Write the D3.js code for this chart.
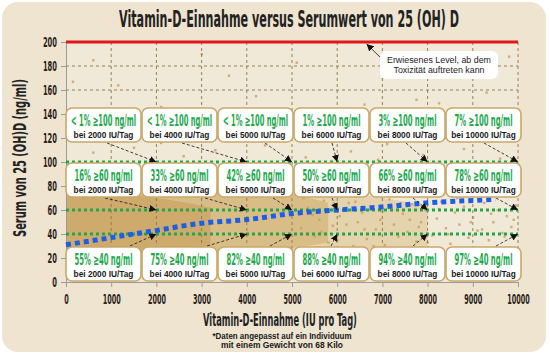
<!DOCTYPE html>
<html><head><meta charset="utf-8">
<script src="https://cdn.jsdelivr.net/npm/d3@7"></script>
<style>body{margin:0;background:#fff}svg{display:block}</style>
</head><body><svg id="c" width="550" height="356"></svg>
<script>
// ---- data ----
const titleText = "Vitamin-D-Einnahme versus Serumwert von 25 (OH) D";
const xLabel = "Vitamin-D-Einnahme (IU pro Tag)";
const yLabel = "Serum von 25 (OH)D (ng/ml)";
const footnote = ["*Daten angepasst auf ein Individuum", "mit einem Gewicht von 68 Kilo"];
const xTicks = [0,1000,2000,3000,4000,5000,6000,7000,8000,9000,10000];
const yTicks = [0,20,40,60,80,100,120,140,160,180,200];
const toxicLevel = 200;
const toxicNote = ["Erwiesenes Level, ab dem", "Toxizität auftreten kann"];
const toxicPointer = 6650;
const thresholds = [100, 60, 40];
const doses = [2000, 4000, 5000, 6000, 8000, 10000];
const pct100 = ["< 1%", "< 1%", "< 1%", "1%", "3%", "7%"];
const pct60 = ["16%", "33%", "42%", "50%", "66%", "78%"];
const pct40 = ["55%", "75%", "82%", "88%", "94%", "97%"];
const trendX = [0,1000,2000,3000,4000,5000,6000,7000,8000,9000,9500];
const trendY = [31,37,43,49,52,57,60,62.5,66,68,69];
// observed cloud envelopes (IU, ng/ml)
const cloudOuterX = [0,1000,2000,3000,4000,5000,6000,7000,8000];
const cloudOuterLo = [14,15,16,18,20,22,25,28,30];
const cloudOuterHi = [88,88,88,86,84,80,76,70,64];
const cloudCoreX = [0,1000,2000,3000,4000,5000,5800];
const cloudCoreLo = [18,18,20,22,25,28,33];
const cloudCoreHi = [82,82,82,80,78,74,66];
const cloudDenseX = [0,800,1600,2400,3200];
const cloudDenseLo = [22,23,25,27,30];
const cloudDenseHi = [76,75,72,68,62];
const scatterX = [5200,5350,5500,5600,5700,5800,5900,6050,6150,6250,6350,6450,6550,6650,6750,6850,6950,7050,7150,7250,7350,7450,7550,7650,7750,7850,7950,8100,8200,8300,8400,8500,8600,8700,8800,8900,9000,9100,9250,9350,9450,9550,9650,9750,9850,9950,
  5250,5450,5650,5850,6000,6200,6400,6600,6800,7000,7200,7400,7600,7800,8000,8250,8450,8650,8950,9200,9400,9700,9900,
  600,1500,2600,3300,4400,5300,6300,7100,7900,8800,9600,2100,4800,6900,
  150,1150,2100,3600,4200,5100,6600,7750,8250,9800,9300,600,3000];
const scatterY = [45,62,38,52,68,33,47,55,40,66,30,50,58,36,63,44,52,31,69,48,38,57,42,65,34,50,60,39,53,67,45,32,58,48,63,37,54,43,66,35,50,60,41,55,46,64,
  70,56,42,60,35,48,67,44,30,59,41,66,52,46,33,61,40,70,50,44,57,38,52,
  108,112,105,110,114,104,109,115,106,111,103,116,101,102,
  167,164,146,172,155,183,148,152,149,188,158,185,190];

// ---- layout ----
const svg = d3.select("#c");
const L = 66, R = 518, T = 42, B = 282;
const x = d3.scaleLinear().domain([0,10000]).range([L,R]);
const y = d3.scaleLinear().domain([0,200]).range([B,T]);
const cond = "'Liberation Sans Narrow','DejaVu Sans Condensed',sans-serif";
const sans = "'Liberation Sans',Arial,sans-serif";
function fit(sel, w){ return sel.attr("textLength", w).attr("lengthAdjust","spacingAndGlyphs"); }
// condensed text: font shrunk to the wanted width, stretched back to the wanted height
function condText(parent, tx, ty, str, w, size, fill){
  const t = parent.append("text").attr("text-anchor","middle").attr("font-family",cond)
    .attr("font-weight","bold").attr("font-size",size).attr("fill",fill).text(str);
  const nat = t.node().getComputedTextLength();
  const fs = size * w / nat;
  t.attr("font-size", fs).attr("transform", `translate(${tx},${ty}) scale(1,${size/fs})`);
  return t;
}

const defs = svg.append("defs");
defs.append("marker").attr("id","ah").attr("viewBox","0 0 10 10").attr("refX",10).attr("refY",5)
  .attr("markerWidth",7).attr("markerHeight",7).attr("markerUnits","userSpaceOnUse").attr("orient","auto")
  .append("path").attr("d","M0,0L10,5L0,10z").attr("fill","#111");
defs.append("clipPath").attr("id","pc").append("rect").attr("x",L).attr("y",T).attr("width",R-L).attr("height",B-T);

// panel
svg.append("rect").attr("x",2).attr("y",2).attr("width",544).attr("height",350).attr("rx",16)
  .attr("fill","#eee4d0");
svg.append("rect").attr("x",L).attr("y",T).attr("width",R-L).attr("height",B-T).attr("fill","#f1e9d8");

// cloud
const gc = svg.append("g").attr("clip-path","url(#pc)");
function band(xs, lo, hi, col, op){
  const a = d3.area().x(d=>x(d[0])).y0(d=>y(d[1])).y1(d=>y(d[2])).curve(d3.curveBasis);
  gc.append("path").datum(xs.map((v,i)=>[v,lo[i],hi[i]])).attr("d",a).attr("fill",col).attr("opacity",op);
}
band(cloudOuterX, cloudOuterLo, cloudOuterHi, "#d9bd84", 0.5);
band(cloudCoreX, cloudCoreLo, cloudCoreHi, "#cfab68", 0.55);
band(cloudDenseX, cloudDenseLo, cloudDenseHi, "#c59d55", 0.55);
gc.selectAll("rect.sc").data(scatterX.map((v,i)=>[v,scatterY[i]])).join("rect").attr("class","sc")
  .attr("x",d=>x(d[0])-1).attr("y",d=>y(d[1])-1).attr("width",2.4).attr("height",2.4)
  .attr("fill","#c7a260").attr("opacity",0.85);

// grid
const gg = svg.append("g").attr("stroke","#8e7448").attr("stroke-width",0.9).attr("stroke-dasharray","3,3");
gg.selectAll("line.v").data(xTicks.filter(t=>t>0)).join("line").attr("x1",d=>x(d)).attr("x2",d=>x(d)).attr("y1",T).attr("y2",B);
gg.selectAll("line.h").data(yTicks.filter(t=>t>0 && t<200)).join("line").attr("x1",L).attr("x2",R).attr("y1",d=>y(d)).attr("y2",d=>y(d));

// axes
const ax = svg.append("g").attr("transform",`translate(0,${B})`)
  .call(d3.axisBottom(x).tickValues(xTicks).tickFormat(d3.format("d")).tickSize(5).tickSizeOuter(0));
const ay = svg.append("g").attr("transform",`translate(${L},0)`)
  .call(d3.axisLeft(y).tickValues(yTicks).tickFormat(d3.format("d")).tickSize(5).tickSizeOuter(0));
[ax,ay].forEach(g=>{ g.select(".domain").attr("stroke","#9a9a9a"); g.selectAll(".tick line").attr("stroke","#9a9a9a");
  g.selectAll(".tick text").attr("font-family",cond).attr("font-weight","bold").attr("font-size",14).attr("fill","#2a2218"); });
ax.selectAll(".tick text").attr("dy",null).attr("y",22).each(function(d){ fit(d3.select(this), String(d).length*4.5); });
ay.selectAll(".tick text").attr("x",-9).each(function(d){ fit(d3.select(this), String(d).length*4.7); });

// toxic line
svg.append("line").attr("x1",x(0)).attr("x2",x(10000)).attr("y1",y(toxicLevel)).attr("y2",y(toxicLevel))
  .attr("stroke","#e0161b").attr("stroke-width",3.2);

// threshold lines
svg.selectAll("line.th").data(thresholds).join("line").attr("class","th")
  .attr("x1",x(0)).attr("x2",x(10000)).attr("y1",d=>y(d)).attr("y2",d=>y(d))
  .attr("stroke","#1fa74a").attr("stroke-width",3).attr("stroke-dasharray","3,3");

// trend line
svg.append("path").datum(trendX.map((v,i)=>[v,trendY[i]]))
  .attr("d", d3.line().x(d=>x(d[0])).y(d=>y(d[1])).curve(d3.curveMonotoneX))
  .attr("fill","none").attr("stroke","#1c5fe6").attr("stroke-width",5).attr("stroke-dasharray","5,4");

// boxes
const rowTop = [108, 163, 247];
const boxW = 75, boxH = 34;
const boxLeft = i => 66 + i*76;
const srcOff = [[41,40,47,38,36,38],[39,63,55,38,43,50],[64,65,52,37,43,50]];
const pcts = [pct100, pct60, pct40];
const ga = svg.append("g");
thresholds.forEach((th, r)=>{
  doses.forEach((ds, i)=>{
    const bx = boxLeft(i), by = rowTop[r];
    const sx = bx + srcOff[r][i], sy = r===2 ? by-1 : by+boxH+1;
    ga.append("line").attr("x1",sx).attr("y1",sy).attr("x2",x(ds)).attr("y2",y(th))
      .attr("stroke","#111").attr("stroke-width",0.8).attr("stroke-dasharray","3,2").attr("marker-end","url(#ah)");
  });
});
const gb = svg.append("g");
thresholds.forEach((th, r)=>{
  doses.forEach((ds, i)=>{
    const bx = boxLeft(i), by = rowTop[r];
    gb.append("rect").attr("x",bx).attr("y",by).attr("width",boxW).attr("height",boxH).attr("rx",6)
      .attr("fill","#fff").attr("stroke","#c9a86a").attr("stroke-width",1.6);
    const p = pcts[r][i];
    condText(gb, bx+boxW/2, by+18, `${p} ≥${th} ng/ml`, p.startsWith("<") ? 65 : 58, 15, "#22a84b");
    gb.append("text").attr("x",bx+boxW/2).attr("y",by+30).attr("text-anchor","middle")
      .attr("font-family",sans).attr("font-weight","bold").attr("font-size",8.3).attr("fill","#1a1a1a")
      .text(`bei ${ds} IU/Tag`);
  });
});

// toxic annotation
svg.append("line").attr("x1",381).attr("y1",58).attr("x2",x(toxicPointer)).attr("y2",y(toxicLevel)+2)
  .attr("stroke","#111").attr("stroke-width",0.8).attr("marker-end","url(#ah)");
svg.append("rect").attr("x",380).attr("y",51).attr("width",118).attr("height",28).attr("rx",6).attr("fill","#fff");
toxicNote.forEach((t,i)=>{
  fit(svg.append("text").attr("x",439).attr("y",63+i*9.5).attr("text-anchor","middle")
    .attr("font-family",sans).attr("font-size",8.5).attr("fill","#1a1a1a").text(t), i===0?104:91);
});

// title & labels
condText(svg, 289, 27, titleText, 340, 23, "#222");
condText(svg, 280, 325.5, xLabel, 154, 17.5, "#222");
condText(svg.append("g").attr("transform","translate(26,158) rotate(-90)"), 0, 0, yLabel, 158, 17, "#222");
footnote.forEach((t,i)=>{
  fit(svg.append("text").attr("x",282).attr("y",338.5+i*9.5).attr("text-anchor","middle")
    .attr("font-family",sans).attr("font-weight","bold").attr("font-size",8.8).attr("fill","#1a1a1a").text(t), i===0?139:122);
});
</script></body></html>
